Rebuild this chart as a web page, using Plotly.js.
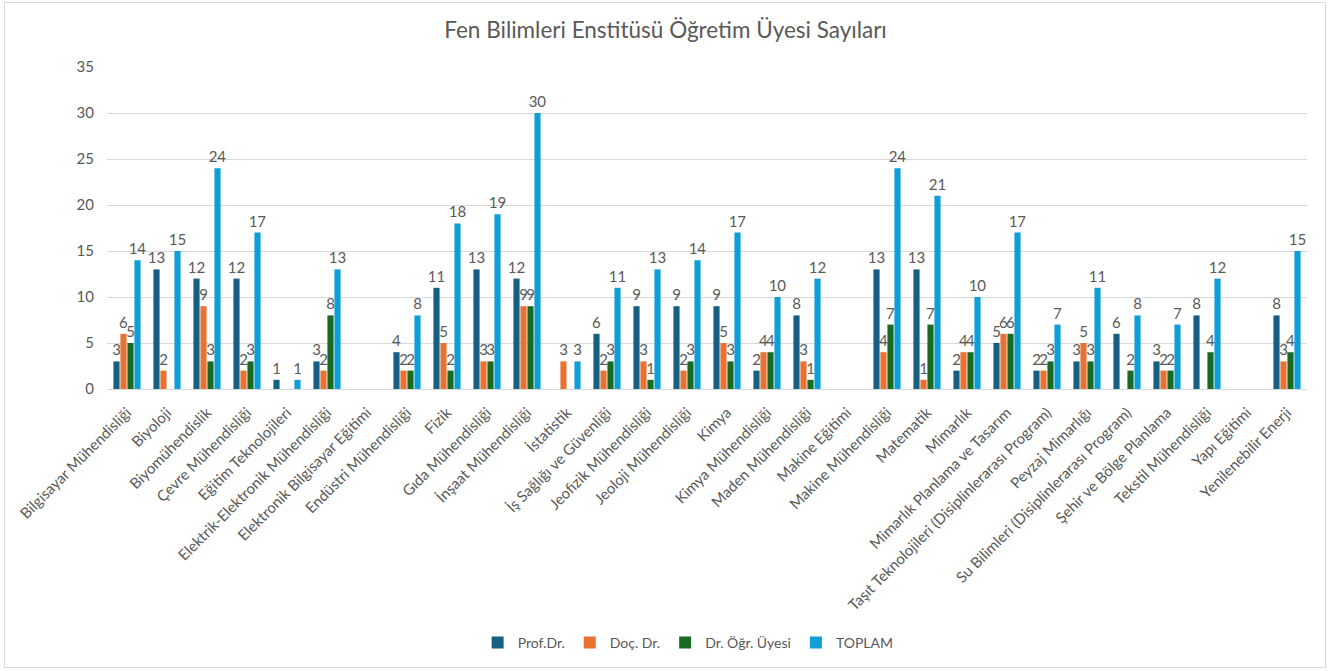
<!DOCTYPE html>
<html>
<head>
<meta charset="utf-8">
<script src="https://cdn.plot.ly/plotly-3.0.1.min.js"></script>
<style>
  html, body { margin: 0; padding: 0; background: #ffffff; }
  #frame { position: absolute; left: 4px; top: 2px; width: 1322px; height: 666px; border: 1px solid #d9d9d9; box-sizing: border-box; }
  #chart { position: absolute; left: 0; top: 0; width: 1331px; height: 671px; }
</style>
</head>
<body>
<div id="frame"></div>
<div id="chart"></div>
<script>
// Faculty counts per programme of the Graduate School of Natural Sciences
const categories = [
  "Bilgisayar Mühendisliği", "Biyoloji", "Biyomühendislik", "Çevre Mühendisliği",
  "Eğitim Teknolojileri", "Elektrik-Elektronik Mühendisliği", "Elektronik Bilgisayar Eğitimi",
  "Endüstri Mühendisliği", "Fizik", "Gıda Mühendisliği", "İnşaat Mühendisliği", "İstatistik",
  "İş Sağlığı ve Güvenliği", "Jeofizik Mühendisliği", "Jeoloji Mühendisliği", "Kimya",
  "Kimya Mühendisliği", "Maden Mühendisliği", "Makine Eğitimi", "Makine Mühendisliği",
  "Matematik", "Mimarlık", "Mimarlık Planlama ve Tasarım",
  "Taşıt Teknolojileri (Disiplinlerarası Program)", "Peyzaj Mimarlığı",
  "Su Bilimleri (Disiplinlerarası Program)", "Şehir ve Bölge Planlama",
  "Tekstil Mühendisliği", "Yapı Eğitimi", "Yenilenebilir Enerji"
];

const profDr   = [3, 13, 12, 12, 1, 3, null, 4, 11, 13, 12, null, 6, 9, 9, 9, 2, 8, null, 13, 13, 2, 5, 2, 3, 6, 3, 8, null, 8];
const docDr    = [6, 2, 9, 2, null, 2, null, 2, 5, 3, 9, 3, 2, 3, 2, 5, 4, 3, null, 4, 1, 4, 6, 2, 5, null, 2, null, null, 3];
const drOgrUye = [5, null, 3, 3, null, 8, null, 2, 2, 3, 9, null, 3, 1, 3, 3, 4, 1, null, 7, 7, 4, 6, 3, 3, 2, 2, 4, null, 4];
const toplam   = [14, 15, 24, 17, 1, 13, null, 8, 18, 19, 30, 3, 11, 13, 14, 17, 10, 12, null, 24, 21, 10, 17, 7, 11, 8, 7, 12, null, 15];

const seriesNames = ["Prof.Dr.", "Doç. Dr.", "Dr. Öğr. Üyesi", "TOPLAM"];
const yTicks = [0, 5, 10, 15, 20, 25, 30, 35];

const colors = ["#156082", "#E97132", "#196B24", "#0F9ED5"];
const textColor = "#595959";
const fontFamily = "Lato, 'Open Sans', sans-serif";

const allSeries = [profDr, docDr, drOgrUye, toplam];
const traces = allSeries.map((vals, i) => ({
  type: "bar",
  name: seriesNames[i],
  x: categories,
  y: vals,
  marker: { color: colors[i] },
  text: vals.map(v => (v === null ? "" : String(v))),
  textposition: "outside",
  textangle: 0,
  constraintext: "none",
  cliponaxis: false,
  textfont: { family: fontFamily, size: 15, color: textColor },
  hoverinfo: "x+y+name"
}));

const layout = {
  width: 1331,
  height: 671,
  paper_bgcolor: "rgba(0,0,0,0)",
  plot_bgcolor: "rgba(0,0,0,0)",
  margin: { l: 107, r: 24, t: 67, b: 282 },
  font: { family: fontFamily, color: textColor, size: 12 },
  title: {
    text: "Fen Bilimleri Enstitüsü Öğretim Üyesi Sayıları",
    font: { family: fontFamily, size: 22.5, color: textColor },
    x: 0.5,
    xanchor: "center",
    y: 0.955,
    yanchor: "middle"
  },
  barmode: "group",
  bargap: 0.3,
  bargroupgap: 0.12,
  showlegend: true,
  legend: {
    orientation: "h",
    xref: "container",
    yref: "container",
    x: 0.517,
    xanchor: "center",
    y: 0.042,
    yanchor: "middle",
    font: { family: fontFamily, size: 14, color: textColor },
    itemwidth: 30,
    traceorder: "normal"
  },
  xaxis: {
    type: "category",
    tickangle: -45,
    tickfont: { family: fontFamily, size: 15, color: textColor },
    showgrid: false,
    showline: true,
    linecolor: "#d9d9d9",
    linewidth: 1,
    ticks: "",
    ticklabelstandoff: 8,
    automargin: false
  },
  yaxis: {
    range: [0, 35],
    tickvals: yTicks,
    ticktext: yTicks.map(String),
    tickfont: { family: fontFamily, size: 15, color: textColor },
    showgrid: true,
    gridcolor: "#d9d9d9",
    gridwidth: 1,
    zeroline: false,
    showline: false,
    ticks: "",
    ticklabelstandoff: 12,
    automargin: false
  }
};

Plotly.newPlot("chart", traces, layout, { displayModeBar: false, staticPlot: true });
</script>
</body>
</html>
